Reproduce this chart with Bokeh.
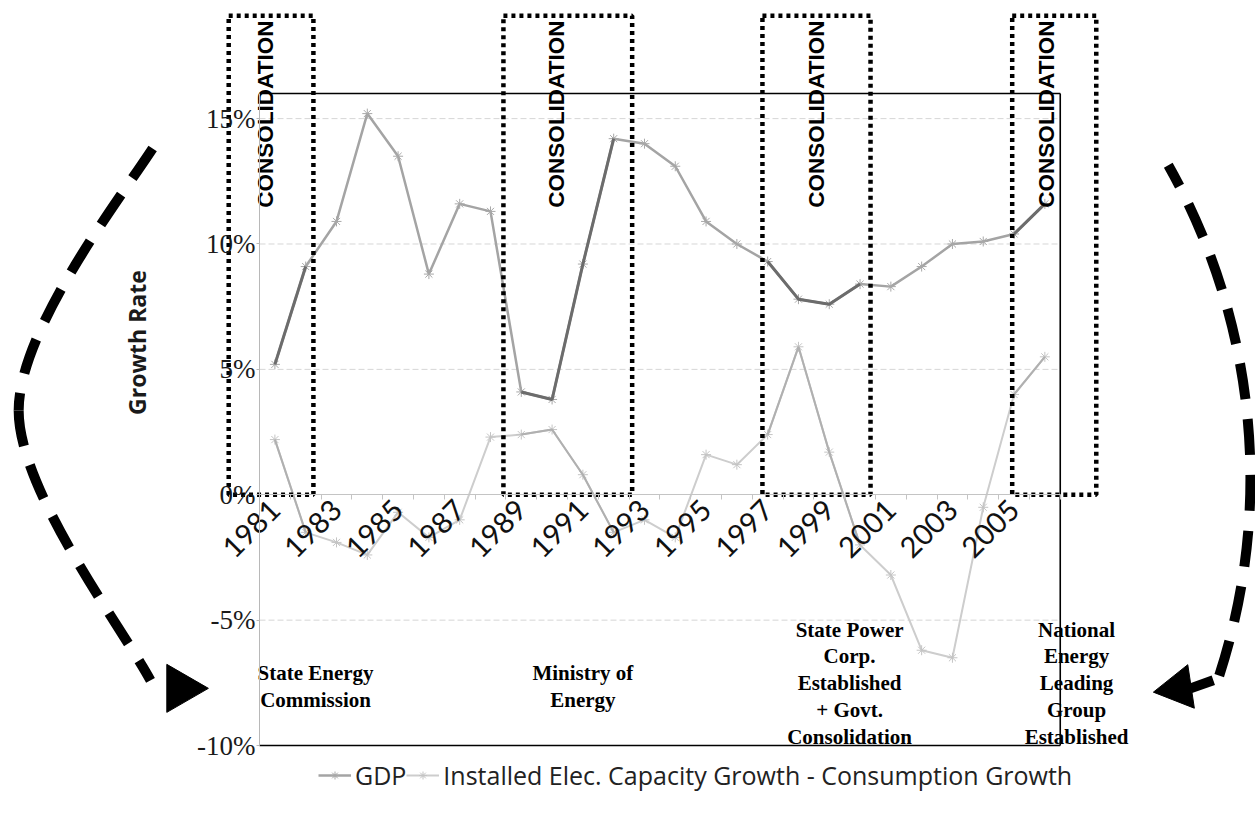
import math
import numpy as np
from bokeh.plotting import figure
from bokeh.models import (Range1d, LinearAxis, FixedTicker, PrintfTickFormatter,
                          Legend, LegendItem)
from bokeh.core.properties import value
from bokeh.embed import file_html
from bokeh.resources import INLINE

# ---- data -------------------------------------------------------------
years = list(range(1981, 2007))
gdp_growth = [5.2, 9.1, 10.9, 15.2, 13.5, 8.8, 11.6, 11.3, 4.1, 3.8, 9.2, 14.2, 14.0,
              13.1, 10.9, 10.0, 9.3, 7.8, 7.6, 8.4, 8.3, 9.1, 10.0, 10.1, 10.4, 11.6]
capacity_minus_consumption = [2.2, -1.5, -1.9, -2.4, -0.7, -1.7, -1.0, 2.3, 2.4, 2.6, 0.8,
                              -1.5, -1.0, -1.7, 1.6, 1.2, 2.4, 5.9, 1.7, -2.0, -3.2, -6.2,
                              -6.5, -0.5, 4.0, 5.5]
year_ticks = list(range(1981, 2006, 2))
pct_ticks = [-10, -5, 0, 5, 10, 15]
grid_levels = [-10, -5, 5, 10, 15]

# consolidation periods (year span of each dotted box)
consolidation_start = [1979.5, 1988.42, 1996.83, 2004.94]
consolidation_end = [1982.25, 1992.6, 2000.34, 2007.67]

# institutional milestones written under the chart
milestone_labels = ["State Energy\nCommission",
                    "Ministry of\nEnergy",
                    "State Power\nCorp.\nEstablished\n+ Govt.\nConsolidation",
                    "National\nEnergy\nLeading\nGroup\nEstablished"]

# ---- layout constants (data units) ------------------------------------
X_LO, X_HI = 1980.5, 2006.5          # plot box, half a year either side
Y_LO, Y_HI = -10, 16
BOX_TOP = 19.1
milestone_x = [1982.32, 1991.0, 1999.66, 2007.03]
milestone_y = [-7.66, -7.66, -7.52, -7.52]
consol_text_x = [1980.69, 1990.15, 1998.59, 2006.06]
consol_text_y = 11.45

p = figure(width=1255, height=819,
           x_range=Range1d(1972.09, 2012.84), y_range=Range1d(-12.95, 19.71),
           x_axis_type=None, y_axis_type=None, min_border=0,
           toolbar_location=None, output_backend="svg",
           outline_line_color=None, background_fill_color="white")

# horizontal gridlines inside the plot box
p.segment(x0=[X_LO] * len(grid_levels), x1=[X_HI] * len(grid_levels),
          y0=grid_levels, y1=grid_levels, line_color="#d6d6d6",
          line_width=1, line_dash="6 3")

# value axis on the left edge of the plot box
yaxis = LinearAxis(fixed_location=X_LO, bounds=(Y_LO, Y_HI),
                   ticker=FixedTicker(ticks=pct_ticks),
                   formatter=PrintfTickFormatter(format="%d%%"),
                   axis_line_color="#b8b8b8", major_tick_line_color="#b8b8b8",
                   major_tick_in=0, major_tick_out=3, minor_tick_line_color=None,
                   major_label_standoff=1,
                   major_label_text_font="Liberation Serif",
                   major_label_text_font_size="27px",
                   major_label_text_color="#1a1a1a")
p.add_layout(yaxis, "left")

# year axis crossing at 0%
half_years = [y + 0.5 for y in range(1980, 2007)]
xaxis = LinearAxis(fixed_location=0, bounds=(X_LO, X_HI),
                   ticker=FixedTicker(ticks=year_ticks, minor_ticks=half_years),
                   axis_line_color="#c4c4c4", major_tick_line_color=None,
                   minor_tick_line_color="#c4c4c4", minor_tick_in=0, minor_tick_out=5,
                   major_label_orientation=math.pi / 4, major_label_standoff=4,
                   major_label_text_font="Lato", major_label_text_font_size="29px",
                   major_label_text_color="#111111")
p.add_layout(xaxis, "below")

# series
yr = np.array(years, dtype=float)
gdp = np.array(gdp_growth)
gap = np.array(capacity_minus_consumption)

gap_line = p.line(yr, gap, line_color="#cdcdcd", line_width=2)
gap_pts = p.scatter(yr, gap, marker="asterisk", size=10, line_color="#c4c4c4")
gdp_line = p.line(yr, gdp, line_color="#a4a4a4", line_width=2.5)
gdp_pts = p.scatter(yr, gdp, marker="asterisk", size=10, line_color="#a8a8a8")

# darker stretches of each series inside the consolidation periods
def inside(vals, start, end):
    m = (yr >= start) & (yr <= end)
    return list(yr[m]), list(vals[m])

gdp_xs, gdp_ys, gap_xs, gap_ys = [], [], [], []
for s, e in zip(consolidation_start, consolidation_end):
    xs, ys = inside(gdp, s, e)
    gdp_xs.append(xs); gdp_ys.append(ys)
    xs, ys = inside(gap, s, e)
    gap_xs.append(xs); gap_ys.append(ys)
p.multi_line(gap_xs, gap_ys, line_color="#b0b0b0", line_width=2)
p.multi_line(gdp_xs, gdp_ys, line_color="#6c6c6c", line_width=3)

# dotted consolidation boxes
p.quad(left=consolidation_start, right=consolidation_end,
       bottom=[0] * 4, top=[BOX_TOP] * 4, fill_color=None,
       line_color="black", line_width=4.5, line_dash="4 4")

p.text(x=consol_text_x, y=[consol_text_y] * 4, text=["CONSOLIDATION"] * 4,
       angle=math.pi / 2, text_align="left", text_baseline="middle",
       text_font=value("Liberation Sans"), text_font_style="bold",
       text_font_size="22.5px", text_color="black")

# plot box border (top, right, bottom)
p.multi_line([[X_LO, X_HI], [X_HI, X_HI], [X_LO, X_HI]],
             [[Y_HI, Y_HI], [Y_HI, Y_LO], [Y_LO, Y_LO]],
             line_color="black", line_width=1.6)

# milestone captions
p.text(x=milestone_x, y=milestone_y, text=milestone_labels,
       text_align="center", text_baseline="middle", text_line_height=1.12,
       text_font=value("Liberation Serif"), text_font_style="bold",
       text_font_size="21px", text_color="black")

# axis title
p.text(x=[1976.51], y=[6.07], text=["Growth Rate"], angle=math.pi / 2,
       text_align="center", text_baseline="middle",
       text_font=value("Open Sans"), text_font_style="bold",
       text_font_size="23px", text_color="#1a1a1a")

# curved dashed arrow on the left: two cubic pieces meeting at the leftmost point
p.bezier(x0=[1977.03, 1972.68], y0=[13.81, 3.36],
         x1=[1972.68, 1976.96], y1=[3.36, -7.40],
         cx0=[1975.92, 1972.68], cy0=[11.73, 0.17],
         cx1=[1972.68, 1975.99], cy1=[6.55, -5.21],
         line_color="black", line_width=10, line_dash="36 20")
p.scatter(x=[1977.94], y=[-7.72], marker="triangle", size=48,
          angle=-math.pi / 2, fill_color="black", line_color="black")

# curved dashed arrow on the right
p.arc(x=[1991.96], y=[0.65], radius=638, radius_units="screen",
      start_angle=math.radians(-18), end_angle=math.radians(29.4),
      direction="anticlock", line_color="black", line_width=10,
      line_dash="36 20")
p.segment(x0=[2010.73], y0=[-7.72], x1=[2011.47], y1=[-7.40],
          line_color="black", line_width=10)
p.scatter(x=[2010.34], y=[-7.72], marker="triangle", size=44,
          angle=math.pi / 2 + 0.15, fill_color="black", line_color="black")

# legend
legend = Legend(items=[LegendItem(label="GDP", renderers=[gdp_line, gdp_pts]),
                       LegendItem(label="Installed Elec. Capacity Growth - Consumption Growth",
                                  renderers=[gap_line, gap_pts])],
                location=(318, 27), orientation="horizontal",
                label_text_font="Open Sans", label_text_font_size="25px",
                label_text_color="#222222", glyph_width=33, glyph_height=20,
                label_standoff=4, spacing=0, padding=4, margin=0,
                background_fill_alpha=0, border_line_color=None)
p.add_layout(legend)

open("out.html", "w").write(file_html(p, INLINE))
